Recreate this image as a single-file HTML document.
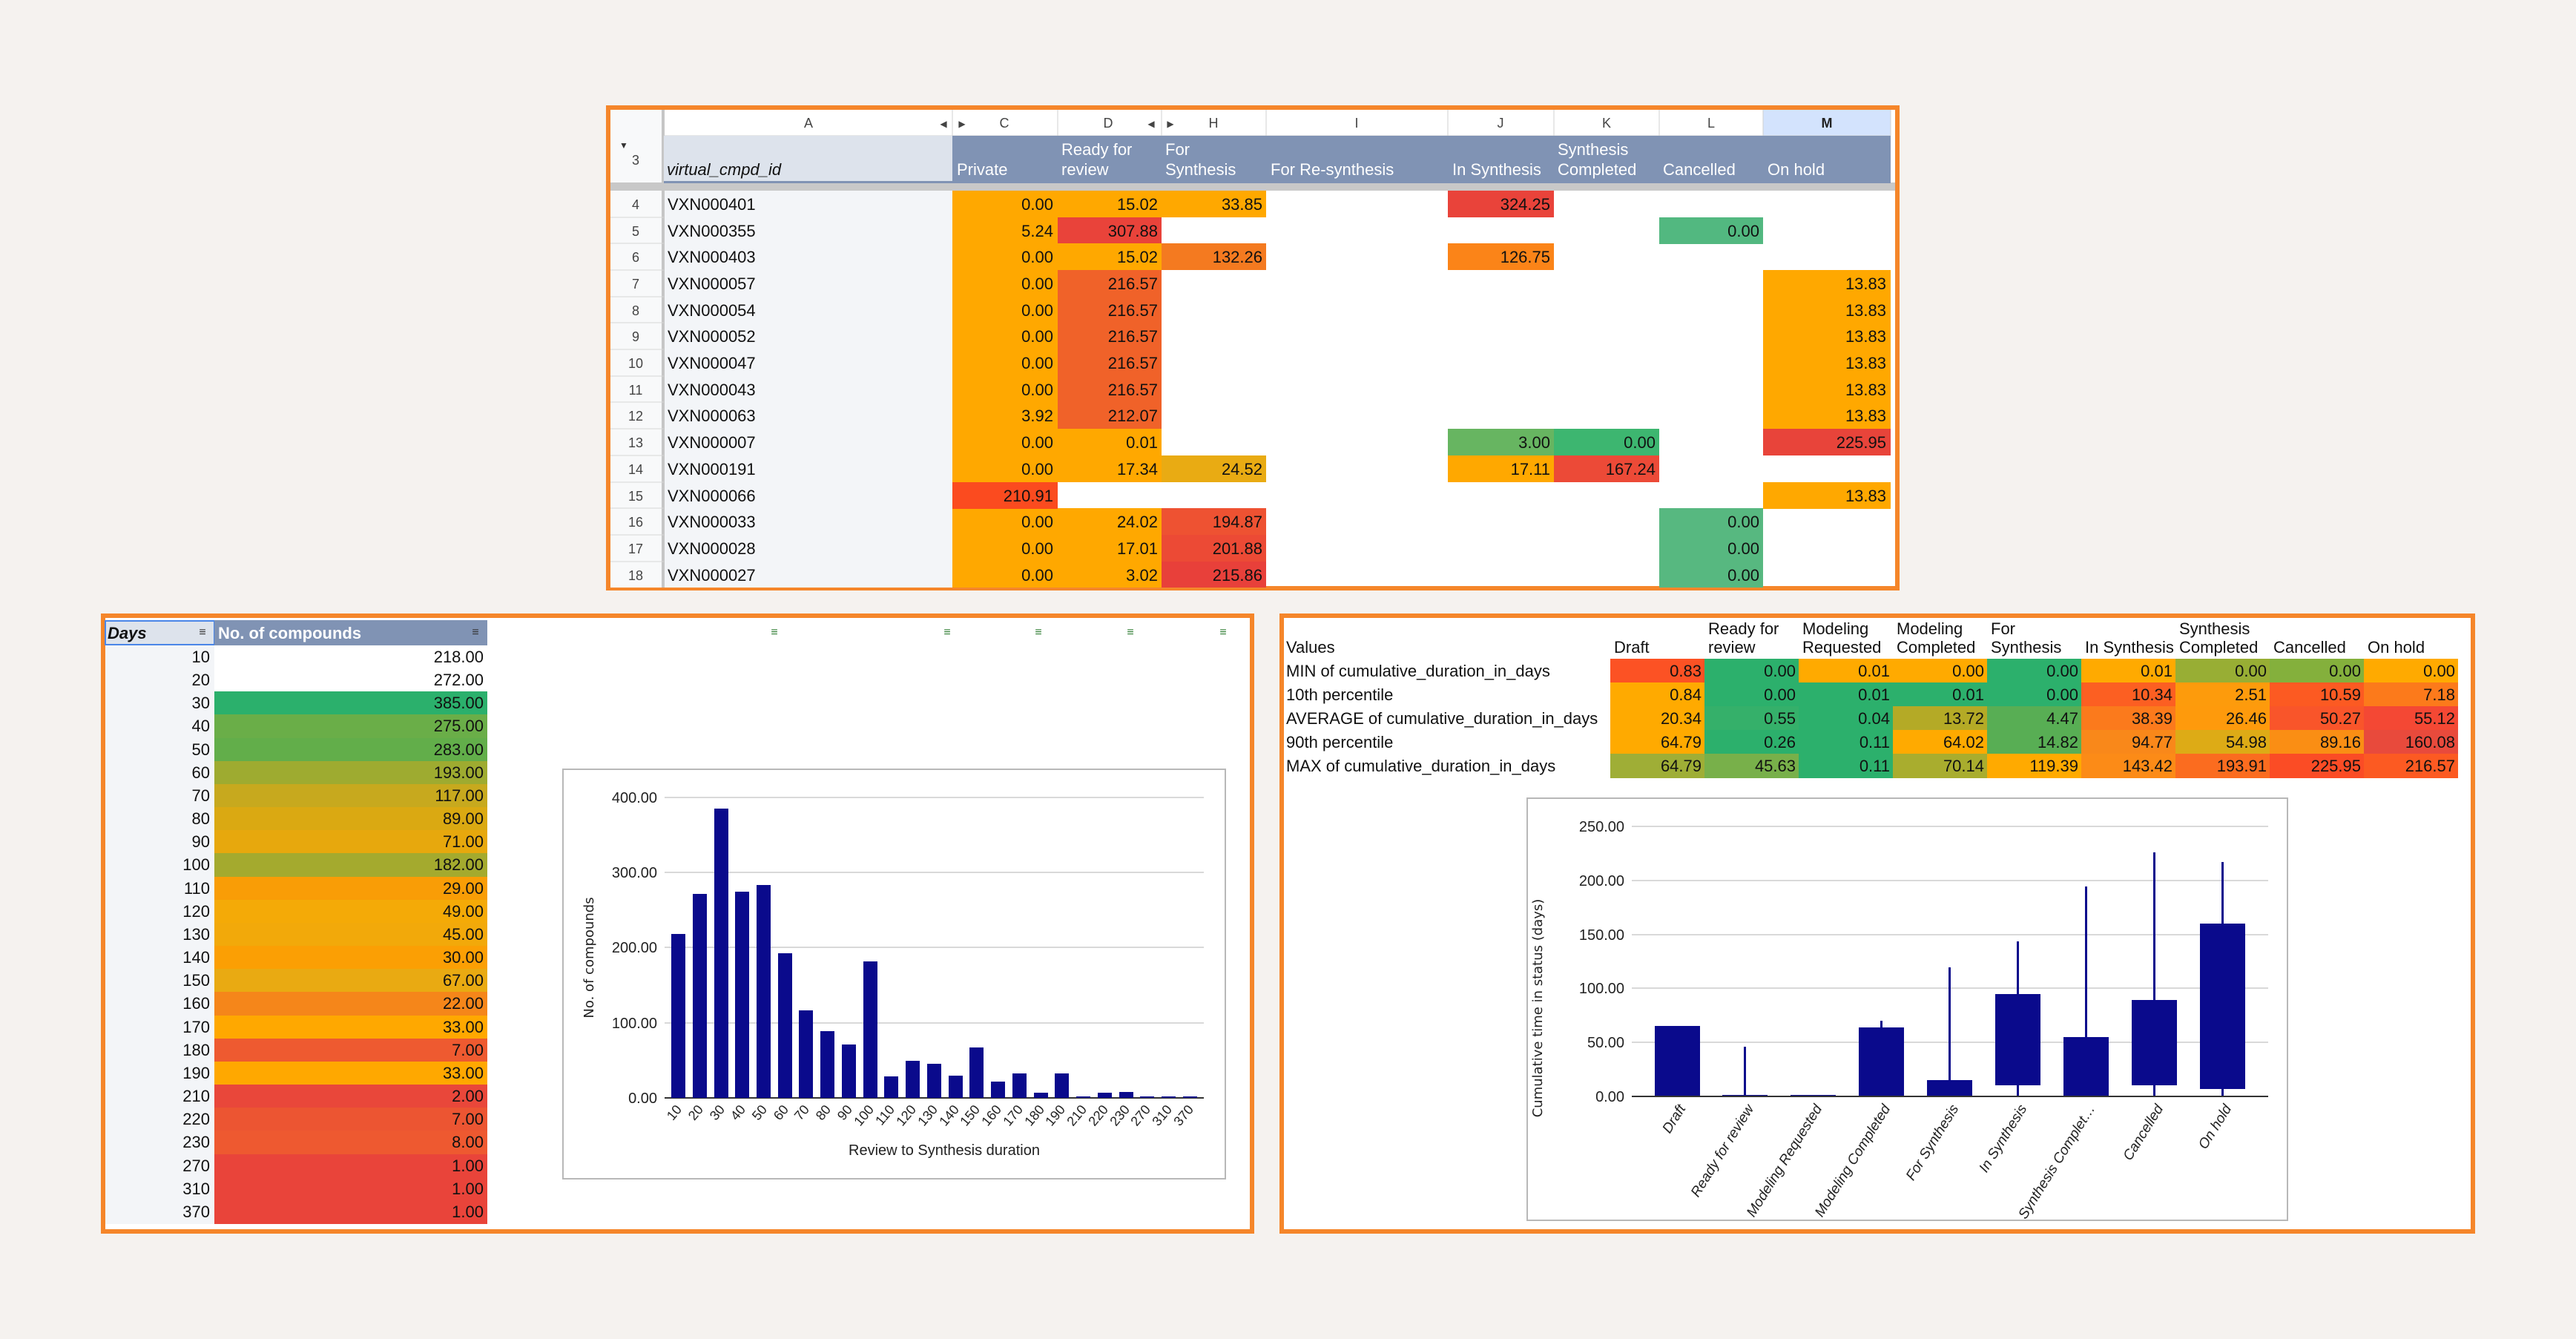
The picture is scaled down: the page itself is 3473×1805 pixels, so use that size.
<!DOCTYPE html>
<html><head><meta charset="utf-8"><style>
html,body{margin:0;padding:0;background:#f5f2ef;}
svg{display:block;font-family:"Liberation Sans",sans-serif;}
.t{font-size:22px;fill:#111}
.r{text-anchor:end}
.w{fill:#fff}
.s{font-size:18px;fill:#444;text-anchor:middle}
.ax{font-size:20px;fill:#222}
</style></head><body>
<svg width="3473" height="1805" viewBox="0 0 3473 1805" xmlns="http://www.w3.org/2000/svg">
<rect width="3473" height="1805" fill="#f5f2ef"/>

<!-- ================= TOP PANEL ================= -->
<rect x="820" y="145" width="1738" height="648" fill="#fff" stroke="#f5862a" stroke-width="6"/>
<rect x="823" y="148" width="72" height="98" fill="#f8f9fa"/>
<rect x="892" y="148" width="4" height="98" fill="#c6c6c6"/>
<rect x="2377" y="148" width="172" height="35" fill="#d3e3fd"/>
<g stroke="#d0d0d0" stroke-width="1">
<line x1="895" y1="183" x2="2549" y2="183"/>
<line x1="1284" y1="148" x2="1284" y2="183"/><line x1="1426" y1="148" x2="1426" y2="183"/>
<line x1="1566" y1="148" x2="1566" y2="183"/><line x1="1707" y1="148" x2="1707" y2="183"/>
<line x1="1952" y1="148" x2="1952" y2="183"/><line x1="2095" y1="148" x2="2095" y2="183"/>
<line x1="2237" y1="148" x2="2237" y2="183"/><line x1="2377" y1="148" x2="2377" y2="183"/>
<line x1="2549" y1="148" x2="2549" y2="183"/>
</g>
<g class="s">
<text x="1090" y="172">A</text><text x="1354" y="172">C</text><text x="1494" y="172">D</text>
<text x="1636" y="172">H</text><text x="1829" y="172">I</text><text x="2023" y="172">J</text>
<text x="2166" y="172">K</text><text x="2307" y="172">L</text>
<text x="2463" y="172" style="font-weight:bold;fill:#222">M</text>
<text x="1272" y="171" style="font-size:12px">◀</text><text x="1297" y="171" style="font-size:12px">▶</text>
<text x="1552" y="171" style="font-size:12px">◀</text><text x="1578" y="171" style="font-size:12px">▶</text>
</g>
<rect x="895" y="183" width="389" height="63" fill="#dde3ec"/>
<rect x="1284" y="183" width="1265" height="63" fill="#8093b4"/>
<text x="835" y="200" style="font-size:12px;fill:#333">▼</text>
<text x="857" y="222" class="s">3</text>
<text x="899" y="236" class="t" font-style="italic">virtual_cmpd_id</text>
<g class="t w">
<text x="1290" y="236">Private</text>
<text x="1431" y="209">Ready for</text><text x="1431" y="236">review</text>
<text x="1571" y="209">For</text><text x="1571" y="236">Synthesis</text>
<text x="1713" y="236">For Re-synthesis</text>
<text x="1958" y="236">In Synthesis</text>
<text x="2100" y="209">Synthesis</text><text x="2100" y="236">Completed</text>
<text x="2242" y="236">Cancelled</text>
<text x="2383" y="236">On hold</text>
</g>
<rect x="823" y="246" width="1732" height="11" fill="#c8c8c8"/>
<rect x="895" y="244" width="1654" height="3" fill="#8093b4"/>
<rect x="823" y="257" width="72" height="535" fill="#f8f9fa"/>
<rect x="895" y="257" width="389" height="535" fill="#f3f5f8"/>
<rect x="892" y="257" width="4" height="535" fill="#c6c6c6"/>
<g>
<rect x="1284" y="257" width="142" height="535" fill="#ffa800"/>
<rect x="1284" y="650" width="142" height="36" fill="#fb4b1f"/>
<rect x="1426" y="257" width="140" height="36" fill="#ffa800"/>
<rect x="1426" y="293" width="140" height="36" fill="#e9433a"/>
<rect x="1426" y="328" width="140" height="36" fill="#ffa800"/>
<rect x="1426" y="364" width="140" height="214" fill="#f06229"/>
<rect x="1426" y="578" width="140" height="72" fill="#ffa800"/>
<rect x="1426" y="685" width="140" height="107" fill="#ffa800"/>
<rect x="1566" y="257" width="141" height="36" fill="#ffa800"/>
<rect x="1566" y="328" width="141" height="36" fill="#f47a20"/>
<rect x="1566" y="614" width="141" height="36" fill="#e9ab13"/>
<rect x="1566" y="685" width="141" height="36" fill="#ee5232"/>
<rect x="1566" y="721" width="141" height="36" fill="#ec4a35"/>
<rect x="1566" y="757" width="141" height="35" fill="#e8403a"/>
<rect x="1952" y="257" width="143" height="36" fill="#e9433a"/>
<rect x="1952" y="328" width="143" height="36" fill="#fb8418"/>
<rect x="1952" y="578" width="143" height="36" fill="#67b561"/>
<rect x="1952" y="614" width="143" height="36" fill="#ffa800"/>
<rect x="2095" y="578" width="142" height="36" fill="#3db670"/>
<rect x="2095" y="614" width="142" height="36" fill="#ec4a37"/>
<rect x="2237" y="293" width="140" height="36" fill="#52b880"/>
<rect x="2237" y="685" width="140" height="107" fill="#57b880"/>
<rect x="2377" y="364" width="172" height="214" fill="#ffa800"/>
<rect x="2377" y="578" width="172" height="36" fill="#e8443a"/>
<rect x="2377" y="650" width="172" height="36" fill="#ffa800"/>
</g>
<g stroke="#d6d6d6" stroke-width="1">
<line x1="823" y1="293" x2="895" y2="293"/><line x1="823" y1="328" x2="895" y2="328"/>
<line x1="823" y1="364" x2="895" y2="364"/><line x1="823" y1="400" x2="895" y2="400"/>
<line x1="823" y1="435" x2="895" y2="435"/><line x1="823" y1="471" x2="895" y2="471"/>
<line x1="823" y1="507" x2="895" y2="507"/><line x1="823" y1="542" x2="895" y2="542"/>
<line x1="823" y1="578" x2="895" y2="578"/><line x1="823" y1="614" x2="895" y2="614"/>
<line x1="823" y1="650" x2="895" y2="650"/><line x1="823" y1="685" x2="895" y2="685"/>
<line x1="823" y1="721" x2="895" y2="721"/><line x1="823" y1="757" x2="895" y2="757"/>
</g>
<g class="s">
<text x="857" y="282">4</text><text x="857" y="318">5</text><text x="857" y="353">6</text>
<text x="857" y="389">7</text><text x="857" y="425">8</text><text x="857" y="460">9</text>
<text x="857" y="496">10</text><text x="857" y="532">11</text><text x="857" y="567">12</text>
<text x="857" y="603">13</text><text x="857" y="639">14</text><text x="857" y="675">15</text>
<text x="857" y="710">16</text><text x="857" y="746">17</text><text x="857" y="782">18</text>
</g>
<g class="t">
<text x="900" y="283">VXN000401</text><text x="900" y="319">VXN000355</text><text x="900" y="354">VXN000403</text>
<text x="900" y="390">VXN000057</text><text x="900" y="426">VXN000054</text><text x="900" y="461">VXN000052</text>
<text x="900" y="497">VXN000047</text><text x="900" y="533">VXN000043</text><text x="900" y="568">VXN000063</text>
<text x="900" y="604">VXN000007</text><text x="900" y="640">VXN000191</text><text x="900" y="676">VXN000066</text>
<text x="900" y="711">VXN000033</text><text x="900" y="747">VXN000028</text><text x="900" y="783">VXN000027</text>
</g>
<g class="t r">
<text x="1420" y="283">0.00</text><text x="1420" y="319">5.24</text><text x="1420" y="354">0.00</text>
<text x="1420" y="390">0.00</text><text x="1420" y="426">0.00</text><text x="1420" y="461">0.00</text>
<text x="1420" y="497">0.00</text><text x="1420" y="533">0.00</text><text x="1420" y="568">3.92</text>
<text x="1420" y="604">0.00</text><text x="1420" y="640">0.00</text><text x="1420" y="676">210.91</text>
<text x="1420" y="711">0.00</text><text x="1420" y="747">0.00</text><text x="1420" y="783">0.00</text>
<text x="1561" y="283">15.02</text><text x="1561" y="319">307.88</text><text x="1561" y="354">15.02</text>
<text x="1561" y="390">216.57</text><text x="1561" y="426">216.57</text><text x="1561" y="461">216.57</text>
<text x="1561" y="497">216.57</text><text x="1561" y="533">216.57</text><text x="1561" y="568">212.07</text>
<text x="1561" y="604">0.01</text><text x="1561" y="640">17.34</text>
<text x="1561" y="711">24.02</text><text x="1561" y="747">17.01</text><text x="1561" y="783">3.02</text>
<text x="1702" y="283">33.85</text><text x="1702" y="354">132.26</text><text x="1702" y="640">24.52</text>
<text x="1702" y="711">194.87</text><text x="1702" y="747">201.88</text><text x="1702" y="783">215.86</text>
<text x="2090" y="283">324.25</text><text x="2090" y="354">126.75</text><text x="2090" y="604">3.00</text><text x="2090" y="640">17.11</text>
<text x="2232" y="604">0.00</text><text x="2232" y="640">167.24</text>
<text x="2372" y="319">0.00</text><text x="2372" y="711">0.00</text><text x="2372" y="747">0.00</text><text x="2372" y="783">0.00</text>
<text x="2543" y="390">13.83</text><text x="2543" y="426">13.83</text><text x="2543" y="461">13.83</text>
<text x="2543" y="497">13.83</text><text x="2543" y="533">13.83</text><text x="2543" y="568">13.83</text>
<text x="2543" y="604">225.95</text><text x="2543" y="676">13.83</text>
</g>

<!-- ================= LEFT PANEL ================= -->
<rect x="139" y="830" width="1549" height="830" fill="#fff" stroke="#f5862a" stroke-width="6"/>
<rect x="142" y="837" width="147" height="32" fill="#dde3ec" stroke="#4a86e8" stroke-width="2"/>
<rect x="289" y="836" width="368" height="34" fill="#8093b4"/>
<text x="145" y="861" class="t" font-style="italic" font-weight="bold">Days</text>
<text x="294" y="861" class="t w" font-weight="bold">No. of compounds</text>
<g style="font-size:16px;fill:#2e7d32" text-anchor="middle">
<text x="273" y="857" style="fill:#333">≡</text><text x="641" y="857" style="fill:#333">≡</text>
<text x="1044" y="857">≡</text><text x="1277" y="857">≡</text><text x="1400" y="857">≡</text><text x="1524" y="857">≡</text><text x="1649" y="857">≡</text>
</g>
<rect x="142" y="870" width="147" height="780" fill="#f3f5f8"/>
<g>
<rect x="289" y="932" width="368" height="32" fill="#2bb06c"/>
<rect x="289" y="963" width="368" height="33" fill="#6aae48"/>
<rect x="289" y="995" width="368" height="32" fill="#62ae4a"/>
<rect x="289" y="1026" width="368" height="32" fill="#9eab30"/>
<rect x="289" y="1057" width="368" height="32" fill="#c7a91e"/>
<rect x="289" y="1088" width="368" height="32" fill="#daa912"/>
<rect x="289" y="1119" width="368" height="32" fill="#e7a80d"/>
<rect x="289" y="1150" width="368" height="33" fill="#a4aa2e"/>
<rect x="289" y="1182" width="368" height="32" fill="#f99d06"/>
<rect x="289" y="1213" width="368" height="32" fill="#f4aa07"/>
<rect x="289" y="1244" width="368" height="32" fill="#f2a90a"/>
<rect x="289" y="1275" width="368" height="32" fill="#fb9f04"/>
<rect x="289" y="1306" width="368" height="32" fill="#e9aa12"/>
<rect x="289" y="1337" width="368" height="33" fill="#f5861a"/>
<rect x="289" y="1369" width="368" height="32" fill="#ffa800"/>
<rect x="289" y="1400" width="368" height="32" fill="#ee5a30"/>
<rect x="289" y="1431" width="368" height="32" fill="#ffa800"/>
<rect x="289" y="1462" width="368" height="32" fill="#e9473a"/>
<rect x="289" y="1493" width="368" height="32" fill="#ec5532"/>
<rect x="289" y="1524" width="368" height="33" fill="#ee5930"/>
<rect x="289" y="1556" width="368" height="94" fill="#e9443a"/>
</g>
<g class="t r">
<text x="283" y="893">10</text><text x="283" y="924">20</text><text x="283" y="955">30</text><text x="283" y="986">40</text>
<text x="283" y="1018">50</text><text x="283" y="1049">60</text><text x="283" y="1080">70</text><text x="283" y="1111">80</text>
<text x="283" y="1142">90</text><text x="283" y="1173">100</text><text x="283" y="1205">110</text><text x="283" y="1236">120</text>
<text x="283" y="1267">130</text><text x="283" y="1298">140</text><text x="283" y="1329">150</text><text x="283" y="1360">160</text>
<text x="283" y="1392">170</text><text x="283" y="1423">180</text><text x="283" y="1454">190</text><text x="283" y="1485">210</text>
<text x="283" y="1516">220</text><text x="283" y="1547">230</text><text x="283" y="1579">270</text><text x="283" y="1610">310</text>
<text x="283" y="1641">370</text>
</g>
<g class="t r">
<text x="652" y="893">218.00</text><text x="652" y="924">272.00</text><text x="652" y="955">385.00</text><text x="652" y="986">275.00</text>
<text x="652" y="1018">283.00</text><text x="652" y="1049">193.00</text><text x="652" y="1080">117.00</text><text x="652" y="1111">89.00</text>
<text x="652" y="1142">71.00</text><text x="652" y="1173">182.00</text><text x="652" y="1205">29.00</text><text x="652" y="1236">49.00</text>
<text x="652" y="1267">45.00</text><text x="652" y="1298">30.00</text><text x="652" y="1329">67.00</text><text x="652" y="1360">22.00</text>
<text x="652" y="1392">33.00</text><text x="652" y="1423">7.00</text><text x="652" y="1454">33.00</text><text x="652" y="1485">2.00</text>
<text x="652" y="1516">7.00</text><text x="652" y="1547">8.00</text><text x="652" y="1579">1.00</text><text x="652" y="1610">1.00</text>
<text x="652" y="1641">1.00</text>
</g>

<!-- histogram -->
<rect x="759" y="1037" width="893" height="552" fill="#fff" stroke="#b8b8b8" stroke-width="2"/>
<g stroke="#d9d9d9" stroke-width="2">
<line x1="896" y1="1075" x2="1623" y2="1075"/><line x1="896" y1="1176" x2="1623" y2="1176"/>
<line x1="896" y1="1277" x2="1623" y2="1277"/><line x1="896" y1="1379" x2="1623" y2="1379"/>
</g>
<line x1="896" y1="1480" x2="1623" y2="1480" stroke="#333" stroke-width="2"/>
<g class="ax r">
<text x="886" y="1082">400.00</text><text x="886" y="1183">300.00</text><text x="886" y="1284">200.00</text>
<text x="886" y="1386">100.00</text><text x="886" y="1487">0.00</text>
</g>
<text transform="translate(800,1291) rotate(-90)" text-anchor="middle" style="font-size:18px;fill:#222;font-family:'DejaVu Sans',sans-serif">No. of compounds</text>
<g fill="#0a0a8c">
<rect x="905" y="1259" width="19" height="221"/>
<rect x="934" y="1205" width="19" height="275"/>
<rect x="963" y="1090" width="19" height="390"/>
<rect x="991" y="1202" width="19" height="278"/>
<rect x="1020" y="1193" width="19" height="287"/>
<rect x="1049" y="1285" width="19" height="195"/>
<rect x="1077" y="1362" width="19" height="118"/>
<rect x="1106" y="1390" width="19" height="90"/>
<rect x="1135" y="1408" width="19" height="72"/>
<rect x="1164" y="1296" width="19" height="184"/>
<rect x="1192" y="1451" width="19" height="29"/>
<rect x="1221" y="1430" width="19" height="50"/>
<rect x="1250" y="1434" width="19" height="46"/>
<rect x="1279" y="1450" width="19" height="30"/>
<rect x="1307" y="1412" width="19" height="68"/>
<rect x="1336" y="1458" width="19" height="22"/>
<rect x="1365" y="1447" width="19" height="33"/>
<rect x="1394" y="1473" width="19" height="7"/>
<rect x="1422" y="1447" width="19" height="33"/>
<rect x="1451" y="1478" width="19" height="2"/>
<rect x="1480" y="1473" width="19" height="7"/>
<rect x="1509" y="1472" width="19" height="8"/>
<rect x="1537" y="1478" width="19" height="2"/>
<rect x="1566" y="1478" width="19" height="2"/>
<rect x="1595" y="1478" width="19" height="2"/>
</g>
<g class="ax" text-anchor="end" style="font-size:18px">
<text transform="translate(920,1496) rotate(-50)">10</text>
<text transform="translate(949,1496) rotate(-50)">20</text>
<text transform="translate(978,1496) rotate(-50)">30</text>
<text transform="translate(1006,1496) rotate(-50)">40</text>
<text transform="translate(1035,1496) rotate(-50)">50</text>
<text transform="translate(1064,1496) rotate(-50)">60</text>
<text transform="translate(1092,1496) rotate(-50)">70</text>
<text transform="translate(1121,1496) rotate(-50)">80</text>
<text transform="translate(1150,1496) rotate(-50)">90</text>
<text transform="translate(1179,1496) rotate(-50)">100</text>
<text transform="translate(1207,1496) rotate(-50)">110</text>
<text transform="translate(1236,1496) rotate(-50)">120</text>
<text transform="translate(1265,1496) rotate(-50)">130</text>
<text transform="translate(1294,1496) rotate(-50)">140</text>
<text transform="translate(1322,1496) rotate(-50)">150</text>
<text transform="translate(1351,1496) rotate(-50)">160</text>
<text transform="translate(1380,1496) rotate(-50)">170</text>
<text transform="translate(1409,1496) rotate(-50)">180</text>
<text transform="translate(1437,1496) rotate(-50)">190</text>
<text transform="translate(1466,1496) rotate(-50)">210</text>
<text transform="translate(1495,1496) rotate(-50)">220</text>
<text transform="translate(1524,1496) rotate(-50)">230</text>
<text transform="translate(1552,1496) rotate(-50)">270</text>
<text transform="translate(1581,1496) rotate(-50)">310</text>
<text transform="translate(1610,1496) rotate(-50)">370</text>
</g>
<text x="1273" y="1557" text-anchor="middle" class="ax">Review to Synthesis duration</text>

<!-- ================= RIGHT PANEL ================= -->
<rect x="1728" y="830" width="1606" height="830" fill="#fff" stroke="#f5862a" stroke-width="6"/>
<g class="t">
<text x="1734" y="880">Values</text>
<text x="2176" y="880">Draft</text>
<text x="2303" y="855">Ready for</text><text x="2303" y="880">review</text>
<text x="2430" y="855">Modeling</text><text x="2430" y="880">Requested</text>
<text x="2557" y="855">Modeling</text><text x="2557" y="880">Completed</text>
<text x="2684" y="855">For</text><text x="2684" y="880">Synthesis</text>
<text x="2811" y="880">In Synthesis</text>
<text x="2938" y="855">Synthesis</text><text x="2938" y="880">Completed</text>
<text x="3065" y="880">Cancelled</text>
<text x="3192" y="880">On hold</text>
<text x="1734" y="912">MIN of cumulative_duration_in_days</text>
<text x="1734" y="944">10th percentile</text>
<text x="1734" y="976">AVERAGE of cumulative_duration_in_days</text>
<text x="1734" y="1008">90th percentile</text>
<text x="1734" y="1040">MAX of cumulative_duration_in_days</text>
</g>
<g>
<rect x="2171" y="888" width="127" height="33" fill="#fc5224"/><rect x="2298" y="888" width="127" height="33" fill="#2cb06c"/>
<rect x="2425" y="888" width="127" height="33" fill="#ffaa00"/><rect x="2552" y="888" width="127" height="33" fill="#ffaa00"/>
<rect x="2679" y="888" width="127" height="33" fill="#2cb06c"/><rect x="2806" y="888" width="127" height="33" fill="#ffaa00"/>
<rect x="2933" y="888" width="127" height="33" fill="#98ae34"/><rect x="3060" y="888" width="127" height="33" fill="#84b03c"/>
<rect x="3187" y="888" width="127" height="33" fill="#ffaa00"/>
<rect x="2171" y="920" width="127" height="33" fill="#ffaa00"/><rect x="2298" y="920" width="127" height="33" fill="#2cb06c"/>
<rect x="2425" y="920" width="127" height="33" fill="#2cb06c"/><rect x="2552" y="920" width="127" height="33" fill="#2cb06c"/>
<rect x="2679" y="920" width="127" height="33" fill="#2cb06c"/><rect x="2806" y="920" width="127" height="33" fill="#fc5f22"/>
<rect x="2933" y="920" width="127" height="33" fill="#fd9b0c"/><rect x="3060" y="920" width="127" height="33" fill="#fc5a22"/>
<rect x="3187" y="920" width="127" height="33" fill="#fc7a1b"/>
<rect x="2171" y="952" width="127" height="33" fill="#ffaa00"/><rect x="2298" y="952" width="127" height="33" fill="#35b06a"/>
<rect x="2425" y="952" width="127" height="33" fill="#2cb06c"/><rect x="2552" y="952" width="127" height="33" fill="#b4aa26"/>
<rect x="2679" y="952" width="127" height="33" fill="#58ae54"/><rect x="2806" y="952" width="127" height="33" fill="#fb7a1c"/>
<rect x="2933" y="952" width="127" height="33" fill="#fe9a0c"/><rect x="3060" y="952" width="127" height="33" fill="#f9552a"/>
<rect x="3187" y="952" width="127" height="33" fill="#f44834"/>
<rect x="2171" y="984" width="127" height="33" fill="#ffaa00"/><rect x="2298" y="984" width="127" height="33" fill="#2cb06c"/>
<rect x="2425" y="984" width="127" height="33" fill="#2cb06c"/><rect x="2552" y="984" width="127" height="33" fill="#ffaa00"/>
<rect x="2679" y="984" width="127" height="33" fill="#58ae54"/><rect x="2806" y="984" width="127" height="33" fill="#f9881a"/>
<rect x="2933" y="984" width="127" height="33" fill="#ddab16"/><rect x="3060" y="984" width="127" height="33" fill="#fa8e14"/>
<rect x="3187" y="984" width="127" height="33" fill="#e84a3c"/>
<rect x="2171" y="1016" width="127" height="33" fill="#9fae36"/><rect x="2298" y="1016" width="127" height="33" fill="#78b04a"/>
<rect x="2425" y="1016" width="127" height="33" fill="#2cb06c"/><rect x="2552" y="1016" width="127" height="33" fill="#a9ad2e"/>
<rect x="2679" y="1016" width="127" height="33" fill="#ffaa00"/><rect x="2806" y="1016" width="127" height="33" fill="#fc8b17"/>
<rect x="2933" y="1016" width="127" height="33" fill="#fb6c1f"/><rect x="3060" y="1016" width="127" height="33" fill="#fb4c25"/>
<rect x="3187" y="1016" width="127" height="33" fill="#fc5a22"/>
</g>
<g class="t r">
<text x="2294" y="912">0.83</text><text x="2421" y="912">0.00</text><text x="2548" y="912">0.01</text><text x="2675" y="912">0.00</text><text x="2802" y="912">0.00</text><text x="2929" y="912">0.01</text><text x="3056" y="912">0.00</text><text x="3183" y="912">0.00</text><text x="3310" y="912">0.00</text>
<text x="2294" y="944">0.84</text><text x="2421" y="944">0.00</text><text x="2548" y="944">0.01</text><text x="2675" y="944">0.01</text><text x="2802" y="944">0.00</text><text x="2929" y="944">10.34</text><text x="3056" y="944">2.51</text><text x="3183" y="944">10.59</text><text x="3310" y="944">7.18</text>
<text x="2294" y="976">20.34</text><text x="2421" y="976">0.55</text><text x="2548" y="976">0.04</text><text x="2675" y="976">13.72</text><text x="2802" y="976">4.47</text><text x="2929" y="976">38.39</text><text x="3056" y="976">26.46</text><text x="3183" y="976">50.27</text><text x="3310" y="976">55.12</text>
<text x="2294" y="1008">64.79</text><text x="2421" y="1008">0.26</text><text x="2548" y="1008">0.11</text><text x="2675" y="1008">64.02</text><text x="2802" y="1008">14.82</text><text x="2929" y="1008">94.77</text><text x="3056" y="1008">54.98</text><text x="3183" y="1008">89.16</text><text x="3310" y="1008">160.08</text>
<text x="2294" y="1040">64.79</text><text x="2421" y="1040">45.63</text><text x="2548" y="1040">0.11</text><text x="2675" y="1040">70.14</text><text x="2802" y="1040">119.39</text><text x="2929" y="1040">143.42</text><text x="3056" y="1040">193.91</text><text x="3183" y="1040">225.95</text><text x="3310" y="1040">216.57</text>
</g>

<!-- box chart -->
<rect x="2059" y="1076" width="1025" height="569" fill="#fff" stroke="#b8b8b8" stroke-width="2"/>
<g stroke="#d9d9d9" stroke-width="2">
<line x1="2200" y1="1114" x2="3058" y2="1114"/><line x1="2200" y1="1187" x2="3058" y2="1187"/>
<line x1="2200" y1="1260" x2="3058" y2="1260"/><line x1="2200" y1="1332" x2="3058" y2="1332"/>
<line x1="2200" y1="1405" x2="3058" y2="1405"/>
</g>
<g class="ax r">
<text x="2190" y="1121">250.00</text><text x="2190" y="1194">200.00</text><text x="2190" y="1267">150.00</text>
<text x="2190" y="1339">100.00</text><text x="2190" y="1412">50.00</text><text x="2190" y="1485">0.00</text>
</g>
<text transform="translate(2079,1359) rotate(-90)" text-anchor="middle" style="font-size:18px;fill:#222;font-family:'DejaVu Sans',sans-serif">Cumulative time in status (days)</text>
<g fill="#0a0a8c">
<rect x="2351" y="1411" width="3" height="67"/>
<rect x="2535" y="1376" width="3" height="102"/>
<rect x="2627" y="1304" width="3" height="174"/>
<rect x="2719" y="1269" width="3" height="209"/>
<rect x="2811" y="1195" width="3" height="283"/>
<rect x="2903" y="1149" width="3" height="329"/>
<rect x="2995" y="1162" width="3" height="316"/>
<rect x="2231" y="1383" width="61" height="95"/>
<rect x="2322" y="1476" width="61" height="2"/>
<rect x="2414" y="1476" width="61" height="2"/>
<rect x="2506" y="1385" width="61" height="93"/>
<rect x="2598" y="1456" width="61" height="22"/>
<rect x="2690" y="1340" width="61" height="123"/>
<rect x="2782" y="1398" width="61" height="80"/>
<rect x="2874" y="1348" width="61" height="115"/>
<rect x="2966" y="1245" width="61" height="223"/>
</g>
<line x1="2200" y1="1478" x2="3058" y2="1478" stroke="#333" stroke-width="2"/>
<g class="ax" text-anchor="end" font-style="italic" style="font-size:19px">
<text transform="translate(2273,1494) rotate(-58)">Draft</text>
<text transform="translate(2365,1494) rotate(-58)">Ready for review</text>
<text transform="translate(2457,1494) rotate(-58)">Modeling Requested</text>
<text transform="translate(2549,1494) rotate(-58)">Modeling Completed</text>
<text transform="translate(2641,1494) rotate(-58)">For Synthesis</text>
<text transform="translate(2733,1494) rotate(-58)">In Synthesis</text>
<text transform="translate(2825,1494) rotate(-58)">Synthesis Complet…</text>
<text transform="translate(2917,1494) rotate(-58)">Cancelled</text>
<text transform="translate(3009,1494) rotate(-58)">On hold</text>
</g>
</svg>
</body></html>
